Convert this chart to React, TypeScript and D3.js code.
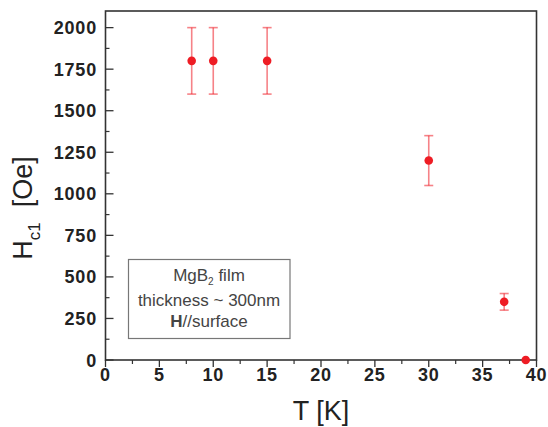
import React from "react";
import * as d3 from "d3";

const temperatures = [8, 10, 15, 30, 37, 39];
const hc1Values = [1800, 1800, 1800, 1200, 350, 0];
const hc1Errors = [200, 200, 200, 150, 50, 0];
const xTicks = [0, 5, 10, 15, 20, 25, 30, 35, 40];
const yTicks = [0, 250, 500, 750, 1000, 1250, 1500, 1750, 2000];
const legendLines = ["MgB", "thickness ~ 300nm", "H//surface"];

const W = 548;
const H = 427;
const left = 105.5;
const right = 536.5;
const top = 11;
const bottom = 360;

export default function App() {
  const x = d3.scaleLinear().domain([0, 40]).range([left, right]);
  const y = d3.scaleLinear().domain([0, 2100]).range([bottom, top]);
  const xMinor = d3.range(2.5, 40, 5);
  const yMinor = d3.range(125, 2100, 250);
  const axisColor = "#333";
  const font = "'Liberation Sans', Arial, sans-serif";
  const red = "#ee1c24";

  return (
    <svg
      width={W}
      height={H}
      style={{ position: "absolute", left: 0, top: 0, background: "#fff" }}
      fontFamily={font}
    >
      <rect x={0} y={0} width={W} height={H} fill="#fff" />
      {/* frame */}
      <rect
        x={left}
        y={top}
        width={right - left}
        height={bottom - top}
        fill="none"
        stroke={axisColor}
        strokeWidth={1.6}
      />
      {/* x ticks */}
      {xTicks.map((t) => (
        <g key={"xt" + t}>
          <line x1={x(t)} x2={x(t)} y1={bottom} y2={bottom + 7} stroke={axisColor} strokeWidth={1.3} />
          <text
            x={x(t)}
            y={381}
            textAnchor="middle"
            fontSize={18}
            fontWeight="bold"
            fill="#222"
            letterSpacing={0.8}
          >
            {t}
          </text>
        </g>
      ))}
      {xMinor.map((t) => (
        <line key={"xm" + t} x1={x(t)} x2={x(t)} y1={bottom} y2={bottom + 4} stroke={axisColor} strokeWidth={1.2} />
      ))}
      {/* y ticks */}
      {yTicks.map((t) => (
        <g key={"yt" + t}>
          <line x1={left} x2={left + 8} y1={y(t)} y2={y(t)} stroke={axisColor} strokeWidth={1.3} />
          <text
            x={97}
            y={y(t) + 6.5}
            textAnchor="end"
            fontSize={18}
            fontWeight="bold"
            fill="#222"
            letterSpacing={0.8}
          >
            {t}
          </text>
        </g>
      ))}
      {yMinor.map((t) => (
        <line key={"ym" + t} x1={left} x2={left + 4} y1={y(t)} y2={y(t)} stroke={axisColor} strokeWidth={1.2} />
      ))}
      {/* axis titles */}
      <text x={321} y={420} textAnchor="middle" fontSize={27} fill="#222">
        T [K]
      </text>
      <text
        transform={`translate(32, 208) rotate(-90)`}
        textAnchor="middle"
        fontSize={27}
        fill="#222"
      >
        H
        <tspan fontSize={17} dy={8}>c1</tspan>
        <tspan dy={-8}>{"\u00a0 [Oe]"}</tspan>
      </text>
      {/* legend box */}
      <rect x={128.5} y={259.5} width={161.5} height={79} fill="#fff" stroke="#777" strokeWidth={1.2} />
      <text x={209} y={281} textAnchor="middle" fontSize={17} fill="#444">
        {legendLines[0]}
        <tspan fontSize={10} dy={4}>2</tspan>
        <tspan dy={-4}> film</tspan>
      </text>
      <text x={209} y={306} textAnchor="middle" fontSize={17} fill="#444">
        {legendLines[1]}
      </text>
      <text x={209} y={327} textAnchor="middle" fontSize={17} fill="#444">
        <tspan fontWeight="bold">H</tspan>
        {legendLines[2].slice(1)}
      </text>
      {/* data */}
      {temperatures.map((t, i) => {
        const cx = x(t);
        const e = hc1Errors[i];
        return (
          <g key={"p" + i}>
            {e > 0 && (
              <g stroke={red} strokeOpacity={0.55} strokeWidth={1.6}>
                <line x1={cx} x2={cx} y1={y(hc1Values[i] + e)} y2={y(hc1Values[i] - e)} />
                <line x1={cx - 4.5} x2={cx + 4.5} y1={y(hc1Values[i] + e)} y2={y(hc1Values[i] + e)} />
                <line x1={cx - 4.5} x2={cx + 4.5} y1={y(hc1Values[i] - e)} y2={y(hc1Values[i] - e)} />
              </g>
            )}
            <circle cx={cx} cy={y(hc1Values[i])} r={4.3} fill={red} />
          </g>
        );
      })}
    </svg>
  );
}
